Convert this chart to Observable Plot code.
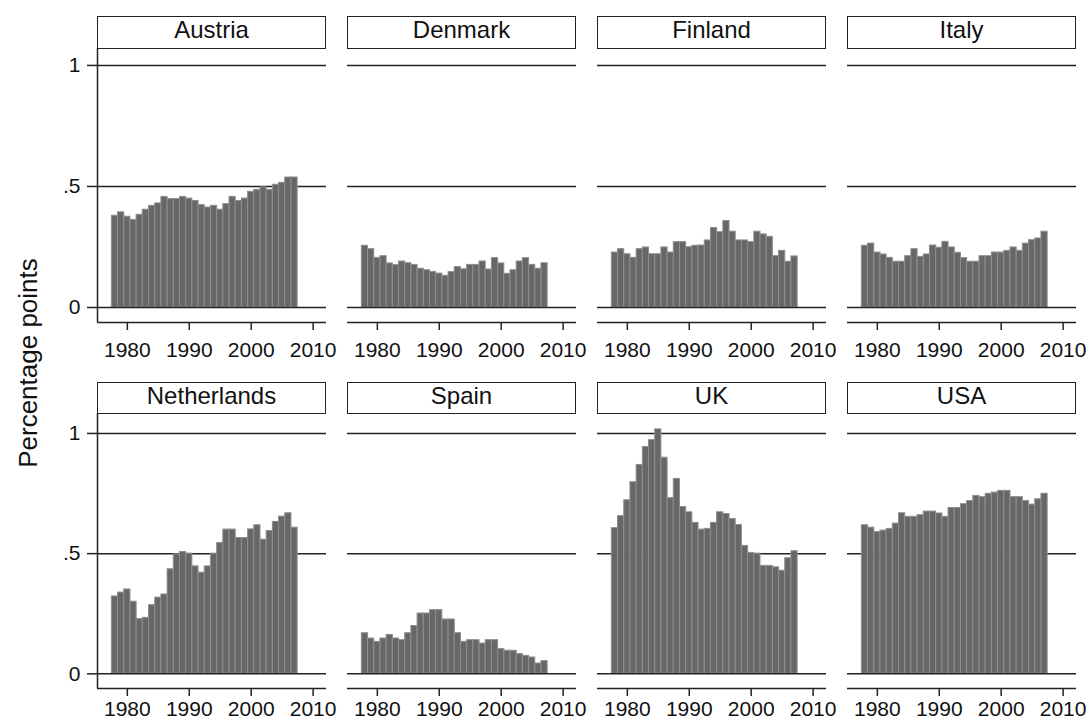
<!DOCTYPE html>
<html>
<head>
<meta charset="utf-8">
<script src="https://cdn.jsdelivr.net/npm/d3@7"></script>
<script src="https://cdn.jsdelivr.net/npm/@observablehq/plot@0.6"></script>
<style>
  html, body { margin: 0; padding: 0; background: #fff; }
  #chart { position: relative; width: 1091px; height: 727px; overflow: hidden; font-family: "Liberation Sans", Arial, sans-serif; color: #111; }
  .panel { position: absolute; width: 320px; }
  .panel svg { max-width: none !important; }
  .strip { position: absolute; box-sizing: border-box; border: 1.5px solid #222; text-align: center; font-size: 24px; line-height: 26px; color: #111; background: transparent; }
  .ytitle { position: absolute; font-size: 26px; white-space: nowrap; transform: translate(-50%, -50%) rotate(-90deg); color: #111; }
</style>
</head>
<body>
<div id="chart"></div>
<script>
// ---- data ----
const countries = ["Austria", "Denmark", "Finland", "Italy", "Netherlands", "Spain", "UK", "USA"];
const years = [1978,1979,1980,1981,1982,1983,1984,1985,1986,1987,1988,1989,1990,1991,1992,1993,1994,1995,1996,1997,1998,1999,2000,2001,2002,2003,2004,2005,2006,2007];
const austria = [0.379,0.393,0.375,0.362,0.383,0.404,0.420,0.430,0.457,0.448,0.448,0.457,0.450,0.440,0.423,0.413,0.420,0.404,0.427,0.457,0.440,0.450,0.478,0.486,0.496,0.486,0.507,0.515,0.537,0.537];
const denmark = [0.255,0.241,0.205,0.212,0.182,0.175,0.190,0.183,0.176,0.160,0.154,0.147,0.140,0.131,0.146,0.167,0.158,0.176,0.176,0.190,0.157,0.204,0.182,0.139,0.154,0.190,0.204,0.176,0.160,0.183];
const finland = [0.227,0.241,0.220,0.205,0.241,0.248,0.220,0.220,0.248,0.227,0.270,0.270,0.249,0.255,0.256,0.277,0.328,0.311,0.357,0.313,0.277,0.277,0.270,0.313,0.302,0.292,0.212,0.234,0.189,0.211];
const italy = [0.255,0.264,0.227,0.219,0.205,0.189,0.189,0.212,0.241,0.209,0.219,0.256,0.247,0.271,0.248,0.226,0.204,0.189,0.189,0.212,0.212,0.227,0.227,0.234,0.248,0.234,0.264,0.278,0.285,0.313];
const netherlands = [0.322,0.338,0.351,0.300,0.228,0.233,0.286,0.317,0.330,0.435,0.497,0.507,0.500,0.447,0.421,0.447,0.500,0.544,0.600,0.600,0.565,0.565,0.601,0.618,0.558,0.594,0.632,0.654,0.668,0.608];
const spain = [0.169,0.147,0.133,0.147,0.162,0.147,0.140,0.169,0.199,0.251,0.251,0.265,0.265,0.226,0.226,0.169,0.133,0.140,0.140,0.126,0.140,0.140,0.103,0.096,0.096,0.082,0.075,0.068,0.043,0.053];
const uk = [0.606,0.656,0.722,0.797,0.869,0.944,0.972,1.017,0.899,0.731,0.811,0.694,0.672,0.628,0.600,0.603,0.628,0.672,0.665,0.644,0.619,0.532,0.503,0.500,0.449,0.449,0.443,0.429,0.481,0.510];
const usa = [0.618,0.608,0.590,0.596,0.603,0.625,0.668,0.653,0.653,0.660,0.675,0.675,0.667,0.653,0.690,0.690,0.706,0.719,0.740,0.735,0.749,0.754,0.761,0.761,0.735,0.735,0.719,0.704,0.726,0.749];
const xTicks = [1980, 1990, 2000, 2010];
const yTicks = [0, 0.5, 1];
const yTickLabels = ["0", ".5", "1"];
const yTitle = "Percentage points";

const seriesList = [austria, denmark, finland, italy, netherlands, spain, uk, usa];

// ---- layout ----
const colLeft = [97, 347, 597, 847];
const panelW = 229;
const rows = [
  { stripTop: 16, plotTop: 48, plotBottom: 322, yDomain: [-0.062, 1.070], xPad: 12 },
  { stripTop: 382, plotTop: 413, plotBottom: 688, yDomain: [-0.061, 1.083], xPad: 5 }
];
const xDomain = [1975.18, 2012.16];
const ML = 50, MR = 34, MT = 10, MB = 39;
const FONT = "'Liberation Sans', Arial, sans-serif";
const INK = "#222";

const chart = document.getElementById("chart");

countries.forEach((name, i) => {
  const col = i % 4, r = Math.floor(i / 4);
  const row = rows[r];
  const vals = seriesList[i];
  const data = years.map((y, k) => ({ year: y, value: vals[k] }));
  const plotH = row.plotBottom - row.plotTop;
  const marks = [
    Plot.ruleY([0.5, 1], { stroke: INK, strokeWidth: 1.5 }),
    Plot.rect(data, {
      x1: d => d.year - 0.5, x2: d => d.year + 0.5, y1: 0, y2: "value",
      fill: "#676767", stroke: "#8e8e8e", strokeWidth: 1
    }),
    Plot.ruleY([0], { stroke: INK, strokeWidth: 1.5 }),
    Plot.ruleY([row.yDomain[0]], { stroke: INK, strokeWidth: 1.5 }),
    Plot.axisX({
      ticks: xTicks, tickSize: 8, tickPadding: row.xPad, tickFormat: d => String(d),
      stroke: INK, strokeWidth: 1.5, fill: "#111", fontSize: 21, label: null
    })
  ];
  if (col === 0) {
    marks.push(Plot.ruleX([xDomain[0]], { stroke: INK, strokeWidth: 1.5 }));
    marks.push(Plot.axisY({
      ticks: yTicks, tickSize: 10, tickPadding: 7,
      tickFormat: d => yTickLabels[yTicks.indexOf(d)],
      stroke: INK, strokeWidth: 1.5, fill: "#111", fontSize: 21, label: null
    }));
  }
  const svg = Plot.plot({
    width: ML + panelW + MR,
    height: MT + plotH + MB,
    marginLeft: ML, marginRight: MR, marginTop: MT, marginBottom: MB,
    x: { domain: xDomain },
    y: { domain: row.yDomain, axis: col === 0 ? undefined : null },
    style: { background: "transparent", fontFamily: FONT, fontSize: "21px", color: INK, overflow: "visible", maxWidth: "none" },
    marks
  });
  const wrap = document.createElement("div");
  wrap.className = "panel";
  wrap.style.left = (colLeft[col] - ML) + "px";
  wrap.style.top = (row.plotTop - MT) + "px";
  wrap.appendChild(svg);
  chart.appendChild(wrap);

  const strip = document.createElement("div");
  strip.className = "strip";
  strip.style.left = colLeft[col] + "px";
  strip.style.top = row.stripTop + "px";
  strip.style.width = panelW + "px";
  strip.style.height = (row.plotTop - row.stripTop + 1) + "px";
  strip.textContent = name;
  chart.appendChild(strip);
});

const yt = document.createElement("div");
yt.className = "ytitle";
yt.style.left = "28px";
yt.style.top = "363px";
yt.textContent = yTitle;
chart.appendChild(yt);
</script>
</body>
</html>
